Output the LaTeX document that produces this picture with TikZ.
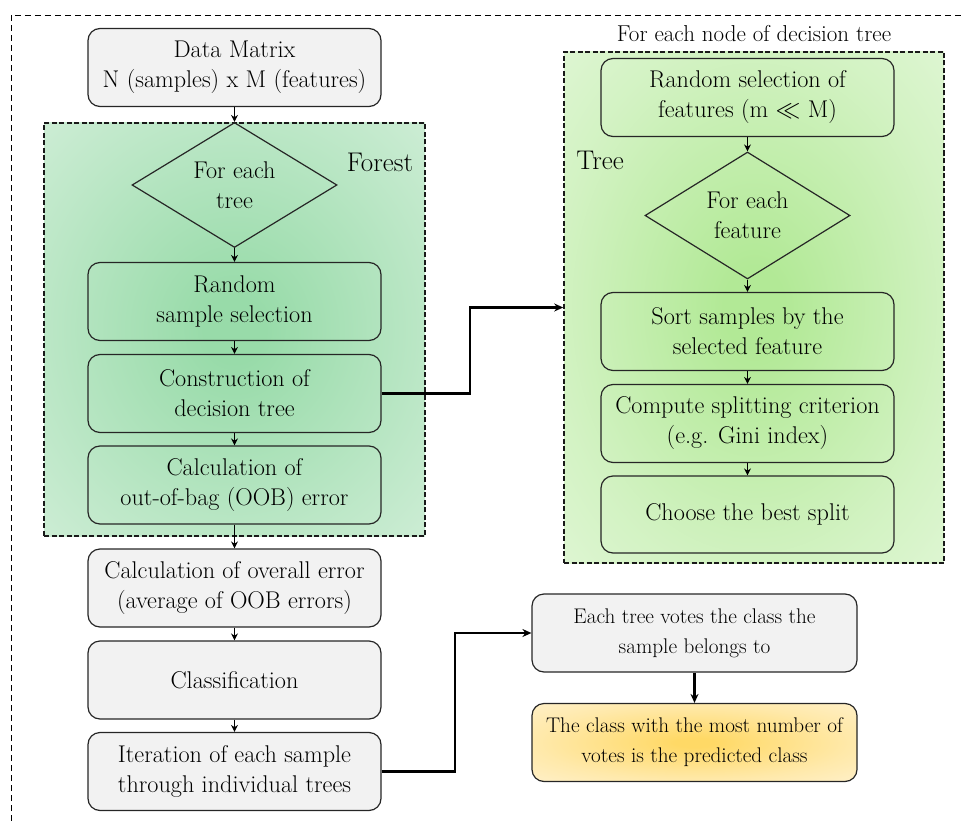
\documentclass[tikz,border=0pt]{standalone}
\usetikzlibrary{shapes.geometric,arrows.meta}
\definecolor{boxgray}{HTML}{F2F2F2}
\definecolor{forin}{HTML}{98DBA9}
\definecolor{forout}{HTML}{E2F4E6}
\definecolor{trin}{HTML}{B2E996}
\definecolor{trout}{HTML}{EDFAE7}
\definecolor{ylin}{HTML}{FFD966}
\definecolor{ylout}{HTML}{FFF6E2}
\pgfdeclareradialshading{forestsh}{\pgfpointorigin}{color(0bp)=(forin); color(4bp)=(forin); color(26bp)=(forin!50!forout); color(49bp)=(forout); color(75bp)=(forout)}
\pgfdeclareradialshading{treesh}{\pgfpointorigin}{color(0bp)=(trin); color(4bp)=(trin); color(26bp)=(trin!45!trout); color(49bp)=(trout); color(75bp)=(trout)}
\pgfdeclareradialshading{yelsh}{\pgfpointorigin}{color(0bp)=(ylin); color(3bp)=(ylin); color(24bp)=(ylin!45!ylout); color(46bp)=(ylout); color(75bp)=(ylout)}
\begin{document}
\begin{tikzpicture}[x=1pt,y=-1pt,
  txt/.style={font=\fontsize{24.2}{30}\selectfont, align=center},
  rbox/.style={txt, draw=black!85, line width=1.2pt, rounded corners=12pt, rectangle, minimum width=293pt, minimum height=78pt, inner sep=0pt},
  gbox/.style={rbox, fill=boxgray},
  smalltxt/.style={font=\fontsize{21.2}{30}\selectfont},
  dmd/.style={txt, diamond, draw=black!85, line width=1.2pt, minimum width=205pt, minimum height=125pt, inner sep=0pt, aspect=1.64},
  region/.style={rectangle, draw=black!90, line width=1.6pt, dash pattern=on 5pt off 2.5pt, inner sep=0pt},
  sarr/.style={line width=1.4pt, -{Stealth[length=7pt,width=7pt]}},
  barr/.style={line width=2.6pt, -{Stealth[length=9pt,width=8pt]}},
  lbl/.style={font=\fontsize{27}{30}\selectfont, inner sep=0pt}
]
\useasboundingbox (0,0) rectangle (963,821);
\draw[line width=0.9pt, dash pattern=on 6pt off 4pt] (11,821) -- (11,15) -- (963,15);

% Forest region
\node[region, minimum width=381pt, minimum height=413pt, shade, shading=forestsh] (forest) at (234.5,329.5) {};
\node[lbl] (forestlbl) at (380,162) {Forest};

% Tree region
\node[region, minimum width=380pt, minimum height=511pt, shade, shading=treesh] (tree) at (754,307.5) {};
\node[lbl] (treelbl) at (600,160) {Tree};
\node[font=\fontsize{23}{26}\selectfont, inner sep=0pt] (nodelbl) at (754,34) {For each node of decision tree};

% left column
\node[gbox] (dm) at (234.5,67.5) {Data Matrix\\N (samples) x M (features)};
\node[dmd] (d1) at (234.5,185) {For each\\tree};
\node[rbox] (rs) at (234.5,301.5) {Random\\sample selection};
\node[rbox] (cd) at (234.5,393.5) {Construction of\\decision tree};
\node[rbox] (oob) at (234.5,485) {Calculation of\\out-of-bag (OOB) error};
\node[gbox] (ov) at (234.5,588) {Calculation of overall error\\(average of OOB errors)};
\node[gbox] (cl) at (234.5,680) {Classification};
\node[gbox] (it) at (234.5,771.5) {Iteration of each sample\\through individual trees};

% right column
\node[rbox] (rf) at (747.5,97.5) {Random selection of\\features (m $\ll$ M)};
\node[dmd, minimum height=127pt] (d2) at (747.5,215.5) {For each\\feature};
\node[rbox] (ss) at (747.5,331.5) {Sort samples by the\\selected feature};
\node[rbox] (cs) at (747.5,423.5) {Compute splitting criterion\\(e.g. Gini index)};
\node[rbox, minimum height=77pt] (cb) at (747.5,514.5) {Choose the best split};

% bottom right
\node[gbox, smalltxt, minimum width=325pt] (et) at (694.5,633) {Each tree votes the class the\\sample belongs to};
\node[rbox, smalltxt, minimum width=325pt, shade, shading=yelsh] (cw) at (694.5,742.5) {The class with the most number of\\votes is the predicted class};

% arrows
\draw[sarr] (dm) -- (d1);
\draw[sarr] (d1) -- (rs);
\draw[sarr] (rs) -- (cd);
\draw[sarr] (cd) -- (oob);
\draw[sarr] (oob) -- (ov);
\draw[sarr] (ov) -- (cl);
\draw[sarr] (cl) -- (it);

\draw[sarr] (rf) -- (d2);
\draw[sarr] (d2) -- (ss);
\draw[sarr] (ss) -- (cs);
\draw[sarr] (cs) -- (cb);

\draw[barr] (cd.east) -- (470,393.5) |- (tree.west);
\draw[barr] (it.east) -- (455,771.5) |- (et.west);
\draw[barr] (et) -- (cw);
\end{tikzpicture}
\end{document}
